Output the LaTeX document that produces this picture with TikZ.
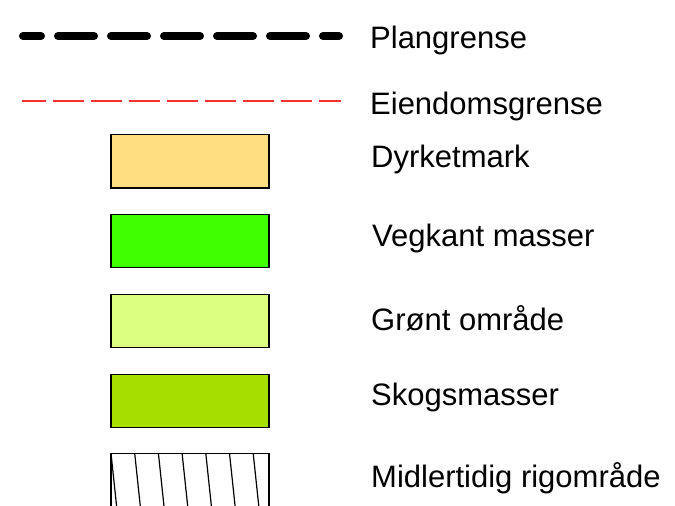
\documentclass[tikz,border=0pt]{standalone}
\usepackage{fontspec}
\setmainfont{Liberation Sans}
\usepackage{tikz}
\usetikzlibrary{positioning}
\definecolor{dyrkfarge}{HTML}{FFDD80}
\definecolor{vegkantfarge}{HTML}{40FF00}
\definecolor{gruntfarge}{HTML}{DDFF80}
\definecolor{skogfarge}{HTML}{A6DE00}
\definecolor{eiendrod}{HTML}{FF3030}

\begin{document}
\begin{tikzpicture}[x=1pt,y=-1pt,
  legbox/.style={draw=black,line width=1.4pt,minimum width=158pt,minimum height=53.5pt,inner sep=0pt},
  legtext/.style={anchor=base west,inner sep=0pt,font=\fontsize{31}{37}\selectfont},
  planline/.style={line width=8pt,line cap=round,dash pattern=on 36pt off 17pt,dash phase=18pt},
  eiendline/.style={draw=eiendrod,line width=1.3pt,dash pattern=on 31pt off 7pt,dash phase=7pt}]
  \useasboundingbox (0,0) rectangle (675,506);
  % linjer
  \coordinate (planA) at (23,36);
  \coordinate (planB) at (339,36);
  \draw[planline] (planA) -- (planB);
  \coordinate (eiendA) at (22,101);
  \coordinate (eiendB) at (341,101);
  \draw[eiendline] (eiendA) -- (eiendB);
  % felter
  \node[legbox,fill=dyrkfarge] (dyrk) at (190,161.3) {};
  \node[legbox,fill=vegkantfarge] (vegkant) at (190,241) {};
  \node[legbox,fill=gruntfarge] (gront) at (190,321) {};
  \node[legbox,fill=skogfarge] (skog) at (190,401) {};
  % rigomraade
  \begin{scope}
    \clip (0,0) rectangle (675,506);
    \draw[line width=1.4pt] (111,510) -- (111,453.3) -- (269,453.3) -- (269,510);
    \foreach \i in {0,...,6}
      \draw[line width=1.2pt] (111+23.7*\i,453.3) -- (117+23.7*\i,510);
  \end{scope}
  % tekster
  \node[legtext] (tplan) at (370,48.3) {Plangrense};
  \node[legtext] (teiend) at (370,114) {Eiendomsgrense};
  \node[legtext] (tdyrk) at (371,167.7) {Dyrketmark};
  \node[legtext] (tvegkant) at (372,246.7) {Vegkant masser};
  \node[legtext] (tgront) at (371,330) {Grønt område};
  \node[legtext] (tskog) at (371,405) {Skogsmasser};
  \node[legtext] (trig) at (371,487.3) {Midlertidig rigområde};
\end{tikzpicture}
\end{document}
